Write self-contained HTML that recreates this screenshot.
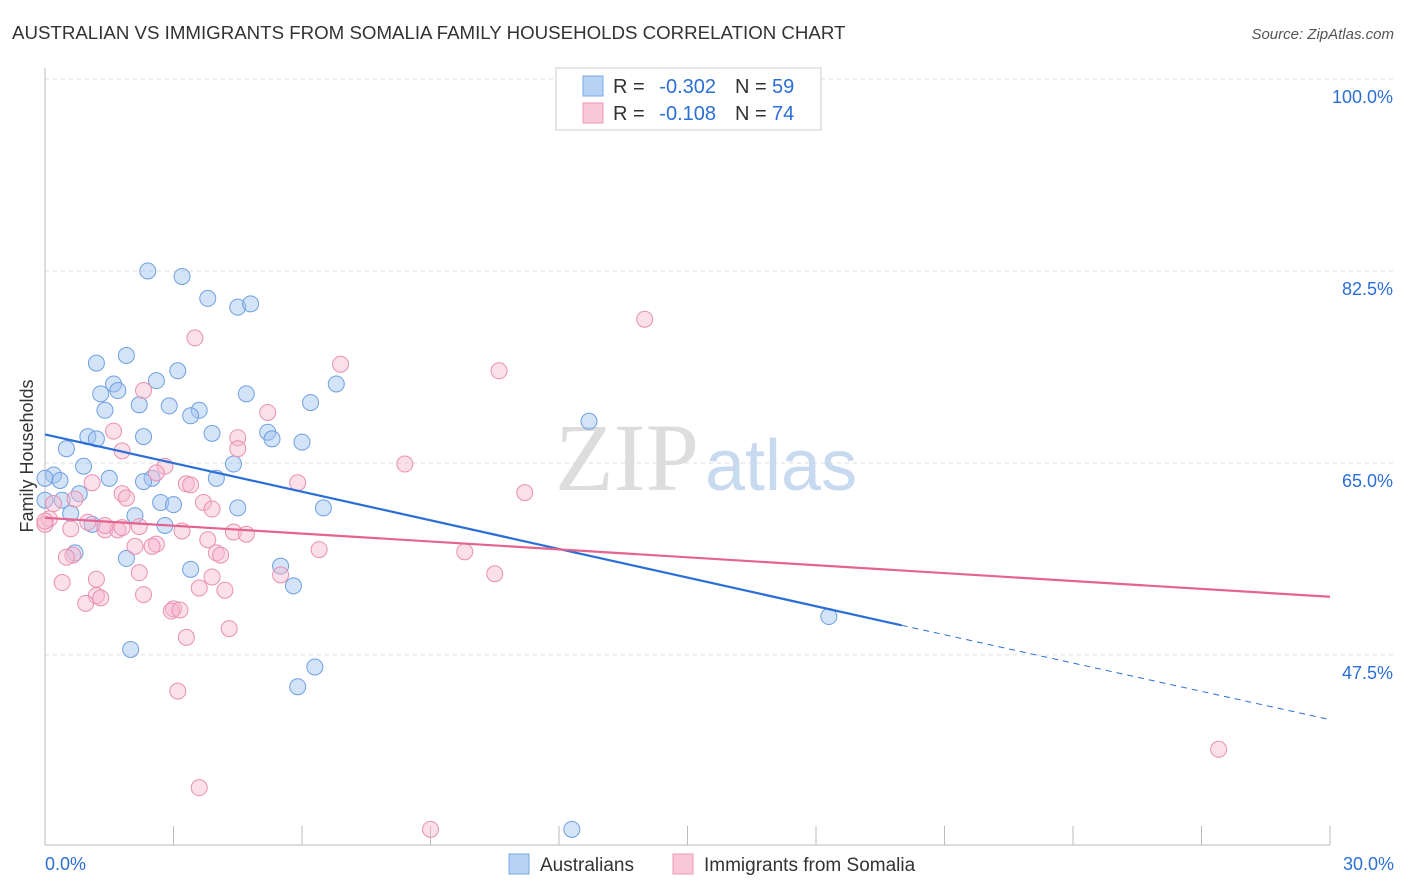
<!DOCTYPE html>
<html><head><meta charset="utf-8"><style>
body{margin:0;background:#fff;font-family:"Liberation Sans",sans-serif}
svg{display:block}
</style></head><body>
<svg id="c" width="1406" height="892" xmlns="http://www.w3.org/2000/svg">
<text x="12" y="39" font-size="18.7" fill="#333">AUSTRALIAN VS IMMIGRANTS FROM SOMALIA FAMILY HOUSEHOLDS CORRELATION CHART</text>
<text x="1394" y="39" font-size="15" fill="#555" font-style="italic" text-anchor="end">Source: ZipAtlas.com</text>
<text x="33" y="456" font-size="18" fill="#333" text-anchor="middle" transform="rotate(-90 33 456)">Family Households</text>
<g id="grid"></g>
<text x="555" y="490" font-size="96" fill="#ddd" font-family="Liberation Serif,serif">ZIP<tspan fill="#c8daf0" font-family="Liberation Sans,sans-serif" font-size="72" dx="6">atlas</tspan></text>
<g id="pts"></g>
<g id="lines"></g>
<g>
<rect x="556" y="68" width="265" height="62" fill="#fff" stroke="#ccc"/>
<rect x="583" y="76" width="20" height="20" fill="#b8d2f4" stroke="#7aa8e4"/>
<rect x="583" y="103" width="20" height="20" fill="#f9c8d8" stroke="#ec9ab8"/>
<text x="613" y="93" font-size="20" fill="#333">R =</text>
<text x="716" y="93" font-size="20" fill="#2b6fd6" text-anchor="end">-0.302</text>
<text x="735" y="93" font-size="20" fill="#333">N =</text>
<text x="772" y="93" font-size="20" fill="#2b6fd6">59</text>
<text x="613" y="120" font-size="20" fill="#333">R =</text>
<text x="716" y="120" font-size="20" fill="#2b6fd6" text-anchor="end">-0.108</text>
<text x="735" y="120" font-size="20" fill="#333">N =</text>
<text x="772" y="120" font-size="20" fill="#2b6fd6">74</text>
</g>
<g>
<rect x="509" y="854" width="20" height="20" fill="#b8d2f4" stroke="#7aa8e4"/>
<text x="540" y="871" font-size="19" fill="#333">Australians</text>
<rect x="673" y="854" width="20" height="20" fill="#f9c8d8" stroke="#ec9ab8"/>
<text x="704" y="871" font-size="19" fill="#333">Immigrants from Somalia</text>
</g>
</svg>
<script>
const yTicks=[100,82.5,65,47.5];
const xTickLabels=["0.0%","30.0%"];
const blueX=[2.4,3.2,3.8,4.5,4.8,1.9,1.2,3.1,2.6,1.6,1.3,1.7,2.2,1.4,2.9,3.6,3.4,4.7,6.8,6.2,2.3,1.0,1.2,3.9,5.2,5.3,6.0,12.7,0.5,0.9,0.2,4.4,0.0,0.35,1.5,2.5,2.3,4.0,0.8,0.4,2.7,3.0,4.5,6.5,0.6,2.1,1.1,2.8,1.9,0.7,3.4,5.5,5.8,18.3,2.0,6.3,5.9,12.3,0.0];
const blueY=[82.5,82.0,80.0,79.2,79.5,74.8,74.1,73.4,72.5,72.2,71.3,71.6,70.3,69.8,70.2,69.8,69.3,71.3,72.2,70.5,67.4,67.4,67.2,67.7,67.8,67.2,66.9,68.8,66.3,64.7,63.9,64.9,63.6,63.4,63.6,63.6,63.3,63.6,62.2,61.6,61.4,61.2,60.9,60.9,60.4,60.2,59.4,59.3,56.3,56.8,55.3,55.6,53.8,51.0,48.0,46.4,44.6,31.6,61.6];
const pinkX=[14.0,3.5,6.9,10.6,2.3,5.2,1.6,4.5,4.5,1.8,2.8,8.4,2.6,1.1,3.3,3.4,5.9,11.2,1.8,1.9,3.7,3.9,0.2,0.7,0.1,0.0,1.0,0.6,1.4,1.7,2.2,3.2,4.4,4.7,1.4,1.8,3.8,2.6,2.5,2.1,6.4,0.65,0.5,4.0,4.1,9.8,2.2,5.5,3.9,10.5,1.2,0.4,3.6,2.3,4.2,1.2,1.3,0.95,3.0,2.95,3.15,4.3,3.3,3.1,3.6,9.0,27.4,0.0];
const pinkY=[78.1,76.4,74.0,73.4,71.6,69.6,67.9,67.3,66.3,66.1,64.7,64.9,64.1,63.2,63.1,63.0,63.2,62.3,62.2,61.8,61.4,60.8,61.3,61.7,59.9,59.4,59.6,59.0,58.9,58.9,59.2,58.8,58.7,58.5,59.3,59.1,58.0,57.6,57.4,57.4,57.1,56.6,56.4,56.8,56.6,56.9,55.0,54.8,54.6,54.9,54.4,54.1,53.6,53.0,53.4,52.9,52.7,52.2,51.7,51.5,51.6,49.9,49.1,44.2,35.4,31.6,38.9,59.7];
const NS="http://www.w3.org/2000/svg";
const X0=45,X1=1330,Y100=79,PXPER=10.97;
function xs(v){return X0+v/30*(X1-X0);}
function ys(v){return Y100+(100-v)*PXPER;}
function mk(t,a,p){const e=document.createElementNS(NS,t);for(const k in a)e.setAttribute(k,a[k]);p.appendChild(e);return e;}
const grid=document.getElementById('grid');
yTicks.forEach(v=>{
 const l=mk('line',{x1:45,x2:1394,y1:ys(v),y2:ys(v),stroke:'#ddd','stroke-dasharray':'4,4'},grid);
 
 
 const t=mk('text',{x:1393,y:ys(v)+24,'font-size':18,fill:'#2b6fd6','text-anchor':'end'},grid);
 t.textContent=(v===100?'100.0':v.toFixed(1))+'%';
 
 
});
mk('line',{x1:45,x2:45,y1:68,y2:845,stroke:'#bbb'},grid);
mk('line',{x1:45,x2:1330,y1:845,y2:845,stroke:'#bbb'},grid);
for(let i=0;i<=10;i++){const l=mk('line',{x1:xs(i*3),x2:xs(i*3),y1:826,y2:845,stroke:'#bbb'},grid);
 
 }
[[0,'start',45],[30,'end',1394]].forEach((d,i)=>{const t=mk('text',{x:d[2],y:870,'font-size':18,fill:'#2b6fd6','text-anchor':d[1]},grid);t.textContent=xTickLabels[i];
 
 });
const pts=document.getElementById('pts');
blueX.forEach((x,i)=>{const c=mk('circle',{cx:xs(x),cy:ys(blueY[i]),r:8,fill:'rgba(160,196,240,0.45)',stroke:'#6f9fe0','stroke-width':1},pts);
 
 });
pinkX.forEach((x,i)=>{const c=mk('circle',{cx:xs(x),cy:ys(pinkY[i]),r:8,fill:'rgba(246,184,206,0.45)',stroke:'#e891b2','stroke-width':1},pts);
 
 });
const ln=document.getElementById('lines');
const l1=mk('line',{x1:xs(0),y1:ys(67.6),x2:xs(20),y2:ys(50.2),stroke:'#2b6fd6','stroke-width':2.2},ln);


const l2=mk('line',{x1:xs(20),y1:ys(50.2),x2:xs(30),y2:ys(41.6),stroke:'#2b6fd6','stroke-width':1,'stroke-dasharray':'6,5'},ln);


const l3=mk('line',{x1:xs(0),y1:ys(60.0),x2:xs(30),y2:ys(52.8),stroke:'#e4638f','stroke-width':2.2},ln);


</script>
</body></html>
